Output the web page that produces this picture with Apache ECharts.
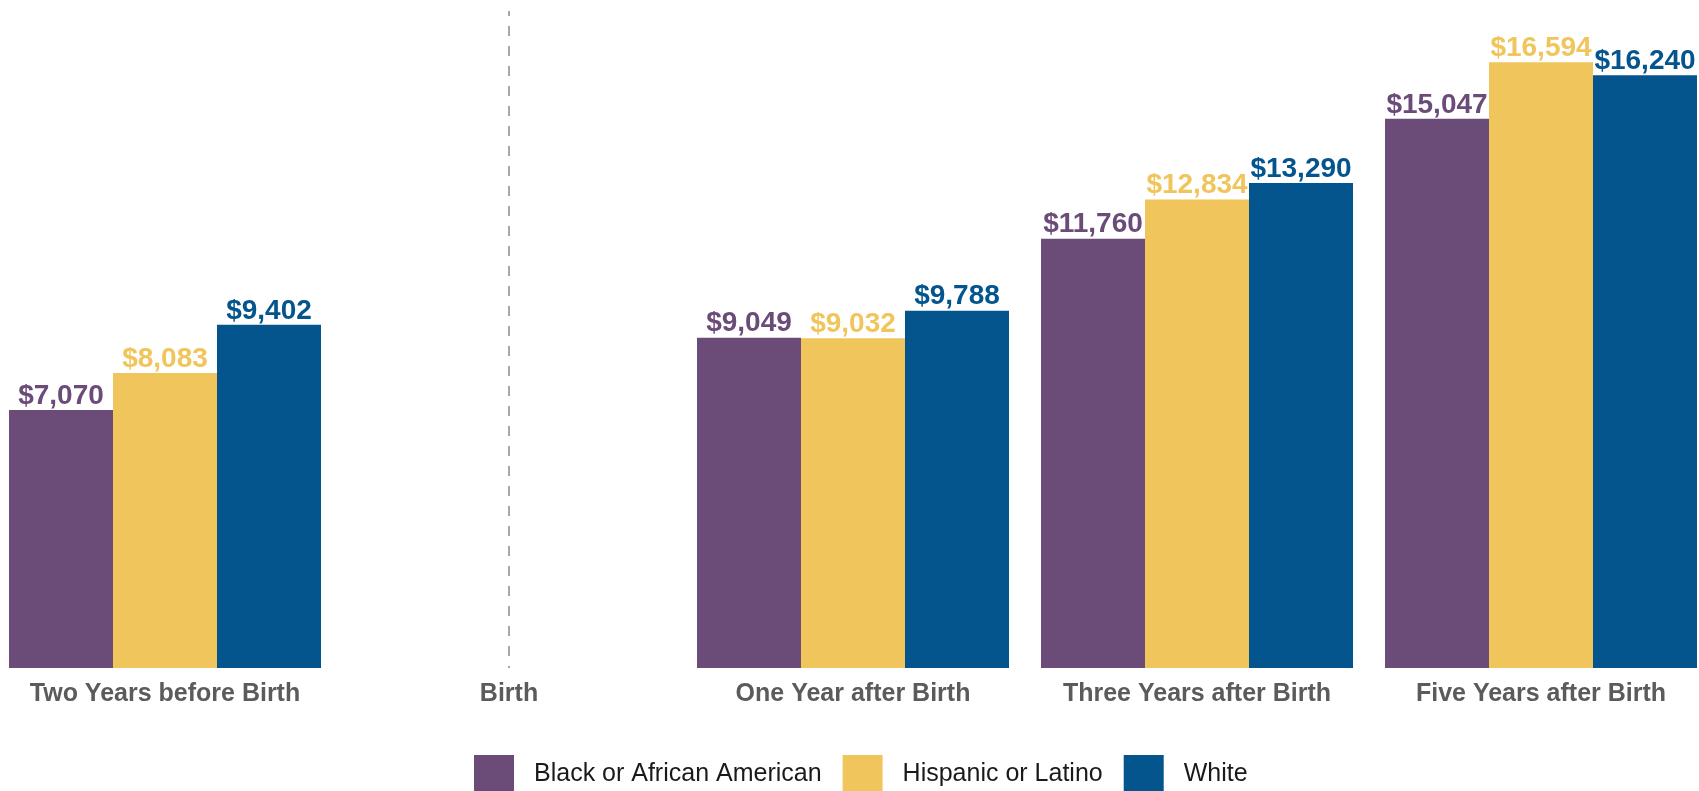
<!DOCTYPE html>
<html>
<head>
<meta charset="utf-8">
<title>Earnings around Birth by Race and Ethnicity</title>
<script src="https://cdn.jsdelivr.net/npm/echarts@6/dist/echarts.min.js"></script>
<style>
  html, body { margin: 0; padding: 0; background: #ffffff; }
  #chart { width: 1699px; height: 791px; }
</style>
</head>
<body>
<div id="chart"></div>
<script>
// Timeline points relative to the birth of a child
const categories = ['Two Years before Birth', 'Birth', 'One Year after Birth', 'Three Years after Birth', 'Five Years after Birth'];

// Average earnings by group (no bars drawn at Birth)
const blackValues    = [7070, null, 9049, 11760, 15047];
const hispanicValues = [8083, null, 9032, 12834, 16594];
const whiteValues    = [9402, null, 9788, 13290, 16240];

const seriesNames = ['Black or African American', 'Hispanic or Latino', 'White'];
const seriesColors = ['#6b4c79', '#f0c55b', '#04558d'];

const fontFamily = '"Liberation Sans", Arial, sans-serif';

function money(v) {
  return '$' + Number(v).toLocaleString('en-US');
}

function barSeries(name, values, color, extra) {
  return Object.assign({
    name: name,
    type: 'bar',
    data: values.map(v => (v === null ? '-' : v)),
    barWidth: 104,
    barGap: '0%',
    itemStyle: { color: color },
    label: {
      show: true,
      position: 'top',
      distance: 0,
      color: color,
      fontFamily: fontFamily,
      fontWeight: 'bold',
      fontSize: 28,
      formatter: p => money(p.value)
    },
    emphasis: { disabled: true }
  }, extra || {});
}

const chart = echarts.init(document.getElementById('chart'), null, { renderer: 'canvas' });

chart.setOption({
  animation: false,
  backgroundColor: '#ffffff',
  grid: { left: -7, width: 1720, top: 11, bottom: 123, containLabel: false, outerBoundsMode: 'none' },
  legend: {
    data: seriesNames,
    left: 469,
    top: 750,
    icon: 'rect',
    itemWidth: 40,
    itemHeight: 38,
    itemGap: 21,
    selectedMode: false,
    textStyle: {
      fontFamily: fontFamily,
      fontSize: 25,
      color: '#1a1a1a',
      padding: [0, 0, 0, 15]
    }
  },
  xAxis: {
    type: 'category',
    data: categories,
    boundaryGap: true,
    axisLine: { show: false },
    axisTick: { show: false },
    axisLabel: {
      margin: 14,
      color: '#5b5b5b',
      fontFamily: fontFamily,
      fontWeight: 'bold',
      fontSize: 25,
      interval: 0
    }
  },
  yAxis: {
    type: 'value',
    min: 0,
    max: 18000,
    show: false,
    splitLine: { show: false }
  },
  series: [
    barSeries(seriesNames[0], blackValues, seriesColors[0]),
    // the middle series sits on the category centre, so the Birth divider goes here
    barSeries(seriesNames[1], hispanicValues, seriesColors[1], {
      markLine: {
        silent: true,
        symbol: 'none',
        label: { show: false },
        lineStyle: { type: [10, 10], dashOffset: 8, color: '#8a8a8a', width: 1.5 },
        data: [{ xAxis: 'Birth' }]
      }
    }),
    barSeries(seriesNames[2], whiteValues, seriesColors[2])
  ]
});
</script>
</body>
</html>
